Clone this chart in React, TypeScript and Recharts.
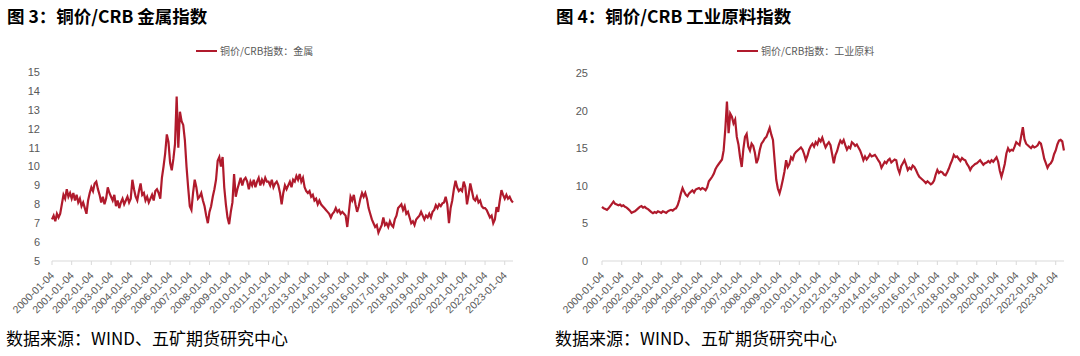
import { LineChart, Line, XAxis, YAxis } from "recharts";

// 月度读数，2000-01 起
const metalRatio = [
  7.2, 7.4, 7.1, 7.5, 7.3, 7.5, 8.0, 8.5, 8.3, 8.8, 8.4, 8.6, // 2000
  8.3, 8.6, 8.2, 8.5, 8.1, 8.3, 7.9, 8.1, 7.8, 7.5, 8.2, 8.6, // 2001
  8.9, 8.7, 9.1, 9.2, 8.8, 8.5, 8.1, 8.4, 8.0, 8.3, 8.9, 8.6, // 2002
  8.4, 8.2, 8.5, 7.9, 8.2, 7.8, 8.1, 8.3, 8.0, 8.2, 8.4, 8.1, // 2003
  8.3, 9.3, 8.8, 8.4, 8.2, 8.7, 9.1, 8.5, 8.6, 8.2, 8.4, 8.1, // 2004
  8.3, 8.5, 8.2, 8.7, 8.8, 8.6, 8.3, 9.4, 10.0, 10.7, 11.7, 11.3, // 2005
  10.2, 9.8, 10.4, 11.2, 13.7, 11.0, 12.9, 12.4, 12.2, 11.4, 10.0, 8.9, // 2006
  7.9, 7.7, 8.6, 9.3, 8.9, 8.3, 8.4, 8.6, 8.2, 7.9, 7.4, 7.0, // 2007
  7.6, 7.9, 8.4, 8.8, 9.3, 10.3, 10.5, 10.0, 10.5, 8.9, 8.0, 7.3, // 2008
  6.95, 7.6, 8.1, 9.6, 8.4, 8.8, 9.1, 9.4, 9.0, 9.3, 9.4, 9.2, // 2009
  8.8, 9.2, 9.0, 9.3, 8.9, 9.2, 9.4, 9.0, 9.3, 9.1, 9.4, 9.2, // 2010
  9.2, 9.0, 9.3, 8.9, 9.1, 9.2, 9.0, 8.6, 8.0, 8.6, 9.0, 8.8, // 2011
  9.0, 9.2, 8.9, 9.3, 9.2, 9.5, 9.3, 9.6, 9.2, 9.4, 8.9, 8.7, // 2012
  8.6, 8.7, 8.4, 8.5, 8.2, 8.3, 8.0, 8.2, 8.0, 7.9, 7.8, 7.7, // 2013
  7.6, 7.5, 7.3, 7.5, 7.6, 7.8, 7.6, 7.7, 7.5, 7.6, 7.5, 7.4, // 2014
  6.8, 7.6, 8.4, 8.2, 8.5, 8.0, 7.6, 7.9, 8.3, 8.6, 8.4, 8.6, // 2015
  8.3, 7.8, 7.5, 7.2, 7.0, 6.8, 6.9, 6.5, 6.7, 6.9, 7.3, 6.9, // 2016
  7.0, 6.8, 7.1, 6.9, 6.8, 7.2, 7.4, 7.8, 7.9, 8.0, 7.7, 7.9, // 2017
  7.5, 7.6, 7.3, 7.0, 7.1, 6.9, 7.2, 7.3, 7.4, 7.6, 7.4, 7.2, // 2018
  7.4, 7.3, 7.5, 7.3, 7.6, 7.7, 7.95, 7.8, 8.0, 7.9, 8.05, 8.1, // 2019
  8.4, 8.0, 7.0, 7.8, 8.2, 8.8, 9.25, 8.9, 8.7, 8.8, 8.7, 9.2, // 2020
  8.9, 8.0, 8.5, 9.1, 8.7, 8.3, 8.2, 8.4, 8.1, 8.2, 7.9, 7.8, // 2021
  7.8, 7.7, 7.5, 7.3, 7.4, 7.0, 7.2, 7.85, 7.6, 8.2, 8.75, 8.5, // 2022
  8.3, 8.5, 8.3, 8.4, 8.2, 8.1, // 2023
];

const industrialRatio = [
  7.2, 7.0, 6.9, 6.8, 7.0, 7.3, 7.6, 7.9, 7.6, 7.5, 7.4, 7.5, // 2000
  7.3, 7.4, 7.2, 7.1, 6.9, 6.7, 6.4, 6.5, 6.6, 6.8, 7.0, 7.2, // 2001
  7.3, 7.1, 7.2, 7.0, 6.9, 6.7, 6.5, 6.35, 6.5, 6.4, 6.6, 6.5, // 2002
  6.4, 6.6, 6.5, 6.4, 6.6, 6.7, 6.8, 6.7, 6.9, 7.0, 7.4, 8.1, // 2003
  9.0, 9.7, 9.2, 8.8, 8.6, 9.0, 9.2, 9.4, 9.1, 9.5, 9.6, 9.7, // 2004
  9.5, 9.7, 9.6, 9.4, 9.8, 10.6, 10.9, 11.2, 11.6, 12.2, 12.6, 12.9, // 2005
  13.2, 13.5, 14.7, 17.5, 21.2, 17.0, 19.6, 19.2, 18.3, 18.8, 16.5, 15.5, // 2006
  13.8, 12.5, 14.9, 16.5, 16.9, 15.2, 14.7, 15.6, 15.3, 14.4, 13.0, 13.6, // 2007
  14.8, 15.6, 15.9, 16.3, 16.5, 17.1, 17.7, 16.8, 16.1, 13.4, 10.8, 9.6, // 2008
  9.0, 9.8, 10.8, 11.9, 13.4, 12.5, 12.9, 13.8, 13.5, 14.2, 14.5, 14.7, // 2009
  14.9, 15.1, 14.8, 14.2, 13.4, 14.0, 14.8, 15.3, 15.6, 15.2, 15.8, 15.5, // 2010
  16.2, 15.9, 16.4, 15.7, 15.1, 15.5, 15.8, 15.4, 14.2, 13.0, 14.1, 14.6, // 2011
  15.4, 16.0, 15.7, 16.1, 15.4, 14.8, 15.2, 15.0, 15.8, 15.6, 15.3, 15.5, // 2012
  15.1, 14.7, 14.1, 13.4, 13.9, 13.5, 13.8, 14.2, 13.9, 14.0, 14.1, 13.8, // 2013
  13.4, 13.1, 12.4, 12.8, 13.2, 13.0, 13.4, 13.6, 13.1, 13.3, 13.5, 13.4, // 2014
  12.3, 11.7, 12.6, 13.0, 13.4, 12.8, 12.1, 12.4, 12.2, 12.7, 12.5, 12.1, // 2015
  11.6, 11.2, 11.0, 10.8, 10.6, 10.35, 10.6, 10.4, 10.2, 10.35, 10.7, 11.5, // 2016
  12.1, 11.7, 11.9, 11.8, 11.5, 11.4, 11.8, 12.3, 12.9, 13.4, 14.1, 13.8, // 2017
  13.9, 13.6, 13.3, 13.7, 13.5, 13.4, 12.9, 12.6, 12.1, 12.5, 12.7, 12.9, // 2018
  13.0, 13.2, 13.4, 13.1, 12.8, 13.0, 13.1, 13.3, 13.1, 13.4, 13.2, 13.5, // 2019
  13.8, 13.2, 12.0, 11.2, 12.0, 12.9, 14.3, 15.0, 14.6, 14.8, 14.7, 15.2, // 2020
  15.8, 15.6, 15.4, 16.6, 17.8, 16.2, 15.6, 15.4, 15.2, 15.0, 15.3, 15.1, // 2021
  15.2, 15.4, 15.8, 15.6, 14.7, 13.6, 13.0, 12.4, 12.8, 13.0, 13.4, 14.2, // 2022
  14.7, 15.5, 16.0, 16.1, 15.9, 14.7, // 2023
];

const yearTicks = [
  2000, 2001, 2002, 2003, 2004, 2005, 2006, 2007, 2008, 2009, 2010, 2011,
  2012, 2013, 2014, 2015, 2016, 2017, 2018, 2019, 2020, 2021, 2022, 2023,
];
const metalTicks = [5, 6, 7, 8, 9, 10, 11, 12, 13, 14, 15];
const industrialTicks = [0, 5, 10, 15, 20, 25];

const RED = "#b01a2c";
const GREY = "#595959";
const AXIS = "#d9d9d9";
const CJK = '"Noto Sans CJK SC", "Noto Sans", sans-serif';

const toRows = (vals: number[]) => vals.map((v, i) => ({ t: 2000 + i / 12, v }));

const DateTick = (props: any) => {
  const { x, y, payload } = props;
  return (
    <text
      x={0}
      y={0}
      transform={`translate(${x + 3},${y + 9}) rotate(-45)`}
      textAnchor="end"
      fontSize={10.5}
      fill={GREY}
      fontFamily='"Liberation Sans", Arial, sans-serif'
    >
      {`${payload.value}-01-04`}
    </text>
  );
};

function Panel(props: {
  left: number;
  title: string;
  legend: string;
  legendX: number;
  values: number[];
  yTicks: number[];
  yWidth: number;
  top: number;
  right: number;
}) {
  const { left, title, legend, legendX, values, yTicks, yWidth, top, right } = props;
  return (
    <div style={{ position: "absolute", left, top: 0, width: 540, height: 356 }}>
      <div
        style={{
          position: "absolute",
          left: left === 0 ? 7 : 16,
          top: 3,
          fontFamily: CJK,
          fontWeight: 700,
          fontSize: 17.5,
          color: "#000",
          whiteSpace: "nowrap",
        }}
      >
        {title}
      </div>
      <div
        style={{
          position: "absolute",
          left: legendX,
          top: 43,
          display: "flex",
          alignItems: "center",
          fontFamily: CJK,
          fontSize: 10,
          color: GREY,
          whiteSpace: "nowrap",
        }}
      >
        <span style={{ display: "inline-block", width: 21, height: 2, background: RED, marginRight: 3 }} />
        {legend}
      </div>
      <LineChart
        width={540}
        height={320}
        data={toRows(values)}
        margin={{ top, right, bottom: 0, left: 0 }}
        style={{ position: "absolute", left: 0, top: 0 }}
      >
        <XAxis
          dataKey="t"
          type="number"
          domain={[2000, 2023.42]}
          ticks={yearTicks}
          interval={0}
          height={59}
          stroke={AXIS}
          tickSize={4}
          tick={<DateTick />}
        />
        <YAxis
          domain={[yTicks[0], yTicks[yTicks.length - 1]]}
          ticks={yTicks}
          interval={0}
          width={yWidth}
          axisLine={false}
          tickLine={false}
          tickSize={6}
          tickMargin={yWidth === 52 ? 6 : 8}
          tick={{ fill: GREY, fontSize: 11, fontFamily: '"Liberation Sans", Arial, sans-serif' }}
        />
        <Line
          dataKey="v"
          stroke={RED}
          strokeWidth={2.2}
          dot={false}
          isAnimationActive={false}
        />
      </LineChart>
      <div
        style={{
          position: "absolute",
          left: left === 0 ? 6 : 15,
          top: 325,
          fontFamily: CJK,
          fontSize: 17,
          color: "#000",
          whiteSpace: "nowrap",
        }}
      >
        数据来源：WIND、五矿期货研究中心
      </div>
    </div>
  );
}

export default function App() {
  return (
    <div
      style={{
        position: "absolute",
        left: 0,
        top: 0,
        width: 1080,
        height: 356,
        background: "#fff",
        overflow: "hidden",
      }}
    >
      <Panel
        left={0}
        title="图 3：铜价/CRB 金属指数"
        legend="铜价/CRB指数：金属"
        legendX={196}
        values={metalRatio}
        yTicks={metalTicks}
        yWidth={52}
        top={72}
        right={27}
      />
      <Panel
        left={540}
        title="图 4：铜价/CRB 工业原料指数"
        legend="铜价/CRB指数：工业原料"
        legendX={197}
        values={industrialRatio}
        yTicks={industrialTicks}
        yWidth={62}
        top={73}
        right={16}
      />
    </div>
  );
}
